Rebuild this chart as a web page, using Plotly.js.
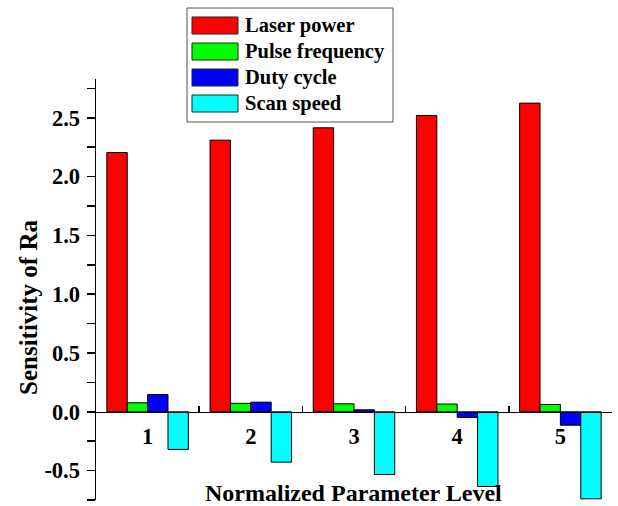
<!DOCTYPE html>
<html>
<head>
<meta charset="utf-8">
<script src="https://cdn.plot.ly/plotly-3.0.1.min.js"></script>
<style>html,body{margin:0;padding:0;background:#fff;}#chart{width:618px;height:506px;}</style>
</head>
<body>
<div id="chart"></div>
<script>
const levels = ['1', '2', '3', '4', '5'];
const seriesNames = ['Laser power', 'Pulse frequency', 'Duty cycle', 'Scan speed'];
const seriesColors = ['#FF0000', '#00FF00', '#0000FF', '#00FFFF'];
const laserPower = [2.205, 2.31, 2.415, 2.52, 2.625];
const pulseFrequency = [0.077, 0.072, 0.068, 0.066, 0.062];
const dutyCycle = [0.147, 0.082, 0.017, -0.048, -0.114];
const scanSpeed = [-0.32, -0.428, -0.533, -0.635, -0.74];
const yTickVals = [-0.5, 0, 0.5, 1, 1.5, 2, 2.5];
const yTickText = ['-0.5', '0.0', '0.5', '1.0', '1.5', '2.0', '2.5'];
const xTitle = 'Normalized Parameter Level';
const yTitle = 'Sensitivity of Ra';

const W = 618, H = 506;
const M = {l: 96, r: 6, t: 79, b: 6};
const PW = W - M.l - M.r, PH = H - M.t - M.b;
const yMin = -0.75, yMax = 2.83;
const px = x => (x - M.l) / PW;
const py = y => (H - M.b - y) / PH;

const FONT = 'Liberation Serif';
const allValues = [laserPower, pulseFrequency, dutyCycle, scanSpeed];

const traces = allValues.map((vals, i) => ({
  type: 'bar',
  name: seriesNames[i],
  x: levels,
  y: vals,
  marker: {color: seriesColors[i], line: {color: '#000', width: 1}},
  showlegend: false,
  hoverinfo: 'skip'
}));

const shapes = [];
const annotations = [];
shapes.push({type: 'rect', xref: 'paper', yref: 'paper',
  x0: px(187), x1: px(393), y0: py(122), y1: py(8),
  line: {color: '#555', width: 1}, fillcolor: 'rgba(0,0,0,0)'});
seriesNames.forEach((name, i) => {
  const top = 17 + i * 26;
  shapes.push({type: 'rect', xref: 'paper', yref: 'paper',
    x0: px(192), x1: px(238), y0: py(top + 17), y1: py(top),
    line: {color: '#222', width: 1}, fillcolor: seriesColors[i]});
  annotations.push({xref: 'paper', yref: 'paper', x: px(243), y: py(top + 8.5),
    xanchor: 'left', yanchor: 'middle', showarrow: false, text: name,
    font: {family: FONT, size: 20.5, color: '#000', weight: 'bold'}});
});
annotations.push({xref: 'paper', yref: 'paper', x: px(353), y: py(493),
  xanchor: 'center', yanchor: 'middle', showarrow: false, text: xTitle,
  font: {family: FONT, size: 24, color: '#000', weight: 'bold'}});
annotations.push({xref: 'paper', yref: 'paper', x: px(28), y: py(307),
  xanchor: 'center', yanchor: 'middle', showarrow: false, text: yTitle, textangle: -90,
  font: {family: FONT, size: 25, color: '#000', weight: 'bold'}});

const layout = {
  width: W, height: H,
  margin: M,
  paper_bgcolor: '#fff', plot_bgcolor: '#fff',
  barmode: 'group', bargap: 0.21, bargroupgap: 0,
  showlegend: false,
  font: {family: FONT, color: '#000'},
  xaxis: {
    type: 'category',
    categoryorder: 'array', categoryarray: levels,
    range: [-0.5, 4.5],
    anchor: 'free', position: (0 - yMin) / (yMax - yMin),
    showline: true, linecolor: '#000', linewidth: 1.5,
    showgrid: false, zeroline: false,
    ticks: 'inside', tickson: 'boundaries', ticklen: 6, tickwidth: 1.5, tickcolor: '#000',
    tickfont: {family: FONT, size: 22.5, color: '#000', weight: 'bold'},
    ticklabelstandoff: 4
  },
  yaxis: {
    range: [yMin, yMax],
    showline: true, linecolor: '#000', linewidth: 1.5,
    showgrid: false, zeroline: false,
    tickmode: 'array', tickvals: yTickVals, ticktext: yTickText,
    ticks: 'outside', ticklen: 8, tickwidth: 1.5, tickcolor: '#000',
    minor: {ticks: 'outside', ticklen: 8, tickwidth: 1.5, tickcolor: '#000', dtick: 0.25, tick0: 0, showgrid: false},
    tickfont: {family: FONT, size: 22.5, color: '#000', weight: 'bold'},
    ticklabelstandoff: 2
  },
  shapes: shapes,
  annotations: annotations
};

Plotly.newPlot('chart', traces, layout, {staticPlot: true, displayModeBar: false});
</script>
</body>
</html>
